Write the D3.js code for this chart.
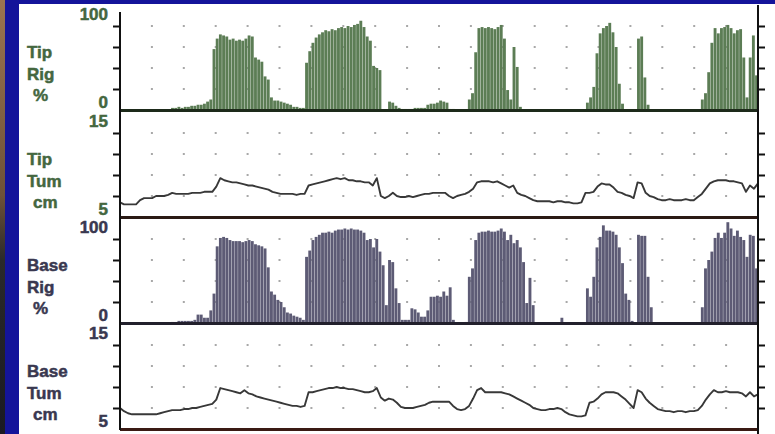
<!DOCTYPE html>
<html>
<head>
<meta charset="utf-8">
<script src="https://cdn.jsdelivr.net/npm/d3@7"></script>
<style>
  html, body { margin: 0; padding: 0; background: #14149a; }
  svg { display: block; }
</style>
</head>
<body>
<svg id="chart" width="775" height="434"></svg>
<script>
// rigidity (%), one value per sample bar
const tipRig = [
  0, 0, 0, 0, 0, 0, 0, 0, 0, 0,
  0, 0, 0, 0, 0, 0, 2, 2, 3, 2,
  3, 3, 4, 4, 5, 5, 6, 8, 10, 58,
  68, 72, 71, 70, 67, 68, 66, 67, 66, 68,
  71, 70, 50, 48, 46, 32, 29, 12, 9, 9,
  8, 7, 6, 5, 3, 3, 2, 2, 45, 56,
  64, 69, 72, 74, 76, 75, 77, 76, 78, 79,
  78, 80, 79, 81, 82, 85, 79, 70, 66, 42,
  40, 38, 0, 0, 8, 7, 4, 2, 1, 1,
  1, 1, 2, 2, 2, 2, 5, 6, 6, 7,
  9, 8, 7, 1, 1, 0, 0, 0, 0, 10,
  16, 55, 78, 79, 78, 79, 78, 77, 79, 81,
  68, 19, 10, 60, 41, 3, 0, 0, 0, 0,
  0, 0, 0, 0, 0, 0, 0, 0, 0, 0,
  0, 0, 0, 0, 0, 0, 7, 12, 22, 54,
  73, 78, 80, 83, 74, 60, 25, 6, 0, 0,
  0, 0, 68, 70, 31, 5, 0, 0, 0, 0,
  0, 0, 0, 0, 0, 0, 0, 0, 0, 0,
  0, 0, 10, 16, 36, 64, 78, 73, 78, 79,
  81, 78, 73, 76, 77, 50, 12, 50, 71, 33
];

const baseRig = [
  0, 0, 0, 0, 0, 0, 0, 0, 0, 0,
  0, 0, 0, 0, 0, 0, 1, 1, 2, 2,
  2, 2, 2, 3, 8, 8, 5, 5, 12, 28,
  73, 81, 82, 81, 79, 78, 78, 78, 77, 78,
  79, 78, 75, 74, 73, 71, 53, 30, 27, 22,
  20, 15, 10, 9, 7, 6, 5, 3, 63, 69,
  79, 82, 84, 86, 86, 87, 86, 88, 89, 89,
  90, 89, 90, 89, 89, 88, 86, 79, 80, 72,
  80, 68, 55, 17, 60, 58, 33, 19, 3, 3,
  3, 14, 13, 10, 6, 6, 12, 25, 25, 26,
  25, 30, 26, 34, 3, 0, 0, 0, 1, 44,
  52, 79, 86, 87, 87, 88, 87, 87, 88, 90,
  87, 79, 84, 76, 79, 72, 58, 19, 43, 17,
  0, 0, 0, 0, 0, 0, 0, 0, 5, 0,
  0, 0, 0, 0, 0, 0, 33, 25, 44, 72,
  82, 93, 88, 88, 87, 84, 72, 57, 28, 22,
  2, 0, 84, 83, 83, 44, 15, 0, 0, 0,
  0, 0, 0, 0, 0, 0, 0, 0, 0, 0,
  0, 0, 15, 52, 60, 68, 81, 86, 81, 86,
  96, 90, 83, 88, 82, 79, 63, 84, 83, 52
];

// tumescence (cm), one value per sample point
const tipTum = [
  6.4, 6.2, 6.2, 6.2, 6.2, 6.6, 6.8, 6.8, 6.8, 7.0,
  7.0, 7.0, 7.1, 7.3, 7.2, 7.2, 7.2, 7.2, 7.3, 7.3,
  7.3, 7.4, 7.4, 7.4, 7.9, 8.7, 8.5, 8.4, 8.3, 8.3,
  8.2, 8.1, 8.0, 8.0, 7.9, 7.8, 7.7, 7.6, 7.4, 7.3,
  7.2, 7.2, 7.2, 7.2, 7.1, 7.2, 7.2, 8.0, 8.1, 8.2,
  8.3, 8.4, 8.5, 8.6, 8.7, 8.6, 8.7, 8.5, 8.5, 8.4,
  8.4, 8.3, 8.3, 8.0, 8.7, 7.0, 6.8, 7.0, 7.3, 7.0,
  6.9, 6.9, 7.0, 6.9, 7.0, 7.1, 7.2, 7.2, 7.3, 7.3,
  7.3, 7.3, 7.0, 6.8, 7.0, 7.1, 7.2, 7.4, 7.7, 8.3,
  8.4, 8.4, 8.4, 8.3, 8.4, 8.2, 8.0, 7.8, 8.0, 7.3,
  7.1, 7.0, 6.8, 6.6, 6.5, 6.5, 6.5, 6.5, 6.4, 6.5,
  6.5, 6.4, 6.4, 6.3, 6.3, 6.4, 7.3, 7.3, 7.4, 7.9,
  8.2, 8.1, 8.1, 7.8, 7.4, 7.3, 7.1, 7.0, 6.8, 8.3,
  8.2, 7.3, 7.0, 6.9, 6.7, 6.6, 6.6, 6.7, 6.6, 6.6,
  6.6, 6.7, 6.6, 6.6, 6.9, 7.2, 7.7, 8.2, 8.4, 8.5,
  8.5, 8.5, 8.4, 8.4, 8.3, 8.2, 7.4, 8.0, 7.7, 8.2
];

const baseTum = [
  7.0, 6.7, 6.5, 6.4, 6.4, 6.4, 6.4, 6.4, 6.4, 6.4,
  6.5, 6.6, 6.7, 6.8, 6.8, 6.8, 6.9, 6.9, 7.0, 7.0,
  7.1, 7.2, 7.3, 7.4, 7.8, 8.9, 8.8, 8.7, 8.6, 8.5,
  8.4, 8.7, 8.4, 8.3, 8.1, 8.0, 7.9, 7.8, 7.7, 7.6,
  7.5, 7.4, 7.3, 7.2, 7.2, 7.1, 7.2, 8.5, 8.5, 8.6,
  8.7, 8.8, 8.9, 8.9, 9.0, 8.9, 8.9, 8.8, 8.8, 8.7,
  8.6, 8.5, 8.5, 8.6, 8.9, 8.0, 7.7, 7.9, 7.8, 7.5,
  7.1, 7.0, 7.0, 7.0, 7.1, 7.2, 7.3, 7.5, 7.6, 7.6,
  7.6, 7.6, 7.6, 7.2, 6.9, 6.8, 6.9, 7.2, 7.9, 8.7,
  8.9, 8.5, 8.5, 8.5, 8.5, 8.5, 8.4, 8.3, 8.1, 7.9,
  7.7, 7.5, 7.3, 7.0, 6.9, 6.8, 6.8, 6.9, 6.9, 7.0,
  6.9, 6.6, 6.4, 6.3, 6.2, 6.2, 6.3, 7.5, 7.6, 7.9,
  8.3, 8.5, 8.5, 8.5, 8.4, 8.1, 7.8, 7.4, 7.0, 8.7,
  8.5, 7.9, 7.5, 7.2, 6.9, 6.8, 6.7, 6.7, 6.6, 6.7,
  6.7, 6.6, 6.7, 6.7, 6.8, 7.2, 7.8, 8.3, 8.7, 8.5,
  8.5, 8.6, 8.5, 8.5, 8.5, 8.4, 8.1, 8.5, 8.1, 8.3
];

const rigDomain = [0, 100];
const rigTicks = [20, 40, 60, 80];
const tumDomain = [5, 15];
const tumTicks = [7, 9, 11, 13];
const gridColumns = 20;

const tipRigLabel = ['Tip', 'Rig', '%'];
const tipTumLabel = ['Tip', 'Tum', 'cm'];
const baseRigLabel = ['Base', 'Rig', '%'];
const baseTumLabel = ['Base', 'Tum', 'cm'];

const left = 120;
const right = 758;
const green = '#5c7d55';
const greenText = '#44673f';
const slate = '#5d5b75';
const slateText = '#393850';

const panels = [
  { label: tipRigLabel, kind: 'bar', values: tipRig, domain: rigDomain, ticks: rigTicks, top: 5, bottom: 110, fill: green, text: greenText, sep: '#1d2a1a' },
  { label: tipTumLabel, kind: 'line', values: tipTum, domain: tumDomain, ticks: tumTicks, top: 112, bottom: 217, fill: green, text: greenText, sep: '#2a1a14' },
  { label: baseRigLabel, kind: 'bar', values: baseRig, domain: rigDomain, ticks: rigTicks, top: 218, bottom: 323, fill: slate, text: slateText, sep: '#22202c' },
  { label: baseTumLabel, kind: 'line', values: baseTum, domain: tumDomain, ticks: tumTicks, top: 324, bottom: 429, fill: slate, text: slateText, sep: '#3a1a14' }
];

const svg = d3.select('#chart');

const grad = svg.append('defs').append('linearGradient')
  .attr('id', 'edge')
  .attr('x1', 0).attr('y1', 0).attr('x2', 0).attr('y2', 1);
grad.append('stop').attr('offset', '0%').attr('stop-color', '#9a7450');
grad.append('stop').attr('offset', '45%').attr('stop-color', '#6e5238');
grad.append('stop').attr('offset', '60%').attr('stop-color', '#2a2a2a');
grad.append('stop').attr('offset', '100%').attr('stop-color', '#1a1a22');

svg.append('rect')
  .attr('x', 0).attr('y', 0)
  .attr('width', 775).attr('height', 434)
  .attr('fill', '#14149a');

svg.append('rect')
  .attr('x', 0).attr('y', 0)
  .attr('width', 5).attr('height', 434)
  .attr('fill', 'url(#edge)');

svg.append('rect')
  .attr('x', 19).attr('y', 4)
  .attr('width', 775 - 19).attr('height', 434 - 4)
  .attr('fill', '#ffffff');

const xGrid = d3.scaleLinear().domain([0, gridColumns]).range([left, right]);
const gridCols = d3.range(1, gridColumns);

panels.forEach(p => {
  const y = d3.scaleLinear().domain(p.domain).range([p.bottom, p.top]);
  const g = svg.append('g').classed('panel', true);

  // dotted grid
  g.append('g').selectAll('rect')
    .data(d3.cross(gridCols, p.ticks))
    .enter()
    .append('rect')
    .attr('x', d => xGrid(d[0]) - 1)
    .attr('y', d => y(d[1]) - 1)
    .attr('width', 2)
    .attr('height', 2)
    .attr('fill', '#a8a8a8');

  if (p.kind === 'bar') {
    const x = d3.scaleBand()
      .domain(d3.range(p.values.length))
      .range([left, right])
      .paddingInner(0.1)
      .paddingOuter(0);

    g.append('g').selectAll('rect')
      .data(p.values)
      .enter()
      .append('rect')
      .attr('x', (d, i) => x(i))
      .attr('width', x.bandwidth())
      .attr('y', d => y(d))
      .attr('height', d => y(0) - y(d))
      .attr('fill', p.fill);
  } else {
    const x = d3.scaleLinear().domain([0, p.values.length - 1]).range([left, right]);
    const line = d3.line()
      .x((d, i) => x(i))
      .y(d => y(d));

    g.append('path')
      .datum(p.values)
      .attr('d', line)
      .attr('fill', 'none')
      .attr('stroke', '#383838')
      .attr('stroke-width', 1.9)
      .attr('stroke-linejoin', 'round');
  }

  // left and right axes, ticks only
  const yLeft = d3.axisLeft(y).tickValues(p.ticks).tickSize(7).tickFormat('');
  const yRight = d3.axisRight(y).tickValues(p.ticks).tickSize(7).tickFormat('');

  g.append('g')
    .attr('transform', `translate(${left},0)`)
    .call(yLeft)
    .call(a => a.select('.domain').remove())
    .selectAll('line')
    .attr('stroke', '#111')
    .attr('stroke-width', 2);

  g.append('g')
    .attr('transform', `translate(${right},0)`)
    .call(yRight)
    .call(a => a.select('.domain').remove())
    .selectAll('line')
    .attr('stroke', '#111')
    .attr('stroke-width', 2);

  // panel bottom rule
  g.append('line')
    .attr('x1', left).attr('x2', right)
    .attr('y1', p.bottom + 0.5).attr('y2', p.bottom + 0.5)
    .attr('stroke', p.sep)
    .attr('stroke-width', 3);

  // end labels of the scale
  const labelFont = g => g
    .attr('font-family', '"Liberation Sans", Arial, sans-serif')
    .attr('font-weight', 'bold')
    .attr('font-size', 17)
    .attr('fill', p.text)
    .attr('stroke', p.text)
    .attr('stroke-width', 0.5);

  g.append('text')
    .attr('x', 108).attr('y', p.top + 15)
    .attr('text-anchor', 'end')
    .call(labelFont)
    .text(p.domain[1]);

  g.append('text')
    .attr('x', 108).attr('y', p.bottom - 2)
    .attr('text-anchor', 'end')
    .call(labelFont)
    .text(p.domain[0]);

  g.append('g').selectAll('text')
    .data(p.label)
    .enter()
    .append('text')
    .attr('x', (d, i) => i === 2 ? 33 : 27)
    .attr('y', (d, i) => p.top + [53, 75, 96][i])
    .call(labelFont)
    .text(d => d);
});

svg.append('line')
  .attr('x1', left).attr('x2', left)
  .attr('y1', 12).attr('y2', 430)
  .attr('stroke', '#111')
  .attr('stroke-width', 2);

svg.append('line')
  .attr('x1', right).attr('x2', right)
  .attr('y1', 5).attr('y2', 434)
  .attr('stroke', '#111')
  .attr('stroke-width', 2);
</script>
</body>
</html>
